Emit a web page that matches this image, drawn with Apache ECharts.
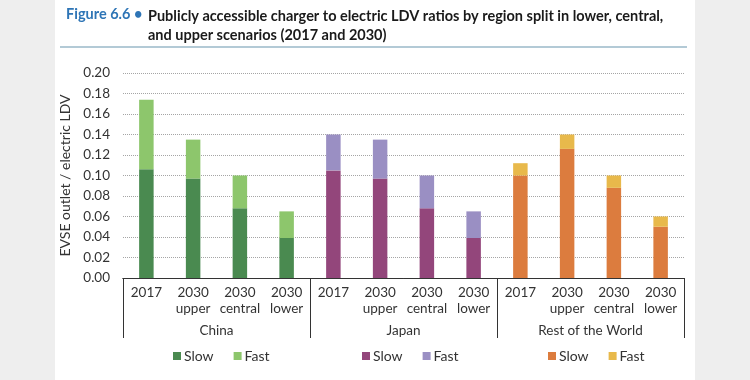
<!DOCTYPE html>
<html>
<head>
<meta charset="utf-8">
<script src="https://cdn.jsdelivr.net/npm/echarts@6/dist/echarts.min.js"></script>
<style>
html,body{margin:0;padding:0;}
#chart{width:750px;height:380px;background:linear-gradient(to right,#eeeeee 0,#eeeeee 55px,#ffffff 55px,#ffffff 695px,#eeeeee 695px,#eeeeee 750px);}
</style>
</head>
<body>
<div id="chart"></div>
<script>
// ---- data ----
const regions = ['China', 'Japan', 'Rest of the World'];
const subCategories = ['2017', '2030\nupper', '2030\ncentral', '2030\nlower'];
const chinaSlow = [0.106, 0.097, 0.068, 0.039];
const chinaFast = [0.068, 0.038, 0.032, 0.026];
const japanSlow = [0.105, 0.097, 0.068, 0.039];
const japanFast = [0.035, 0.038, 0.032, 0.026];
const rowSlow = [0.100, 0.126, 0.088, 0.050];
const rowFast = [0.012, 0.014, 0.012, 0.010];
const yTicks = [0, 0.02, 0.04, 0.06, 0.08, 0.10, 0.12, 0.14, 0.16, 0.18, 0.20];

const FONT = 'Lato, "Open Sans", sans-serif';
const categories = [];
regions.forEach(() => subCategories.forEach(c => categories.push(c)));

function place(values, groupIdx) {
  const out = new Array(categories.length).fill(null);
  values.forEach((v, i) => { out[groupIdx * subCategories.length + i] = v; });
  return out;
}

const seriesDefs = [
  { name: 'China Slow', vals: chinaSlow, g: 0, color: '#4a8a50' },
  { name: 'China Fast', vals: chinaFast, g: 0, color: '#8dc66c' },
  { name: 'Japan Slow', vals: japanSlow, g: 1, color: '#93467b' },
  { name: 'Japan Fast', vals: japanFast, g: 1, color: '#9a8fc3' },
  { name: 'Rest of the World Slow', vals: rowSlow, g: 2, color: '#dc7c3e' },
  { name: 'Rest of the World Fast', vals: rowFast, g: 2, color: '#e8b94b' }
];

const chart = echarts.init(document.getElementById('chart'), null, { renderer: 'canvas' });

const legendCommon = {
  top: 349, padding: 0, icon: 'rect', itemWidth: 8, itemHeight: 8, itemGap: 20, itemStyle: { borderWidth: 0 },
  textStyle: { fontFamily: FONT, fontSize: 14, color: '#333', padding: [0, 0, 0, -2] },
  formatter: n => n.split(' ').pop(),
  selectedMode: false
};

chart.setOption({
  animation: false,
  textStyle: { fontFamily: FONT },
  title: [
    { text: 'Figure 6.6 •', left: 61, top: 2,
      textStyle: { fontFamily: FONT, fontSize: 14.5, fontWeight: 'bold', color: '#2e75b6' } },
    { text: 'Publicly accessible charger to electric LDV ratios by region split in lower, central,\nand upper scenarios (2017 and 2030)',
      left: 143, top: 2,
      textStyle: { fontFamily: FONT, fontSize: 14.5, fontWeight: 'bold', color: '#1a1a1a', lineHeight: 19 } }
  ],
  graphic: [
    { type: 'line', shape: { x1: 60, y1: 47, x2: 687, y2: 47 }, style: { stroke: '#b3cad6', lineWidth: 2 } }
  ],
  grid: { left: 123, right: 66, top: 73, bottom: 102 },
  legend: [
    Object.assign({ left: 173, data: ['China Slow', 'China Fast'] }, legendCommon),
    Object.assign({ left: 362, data: ['Japan Slow', 'Japan Fast'] }, legendCommon),
    Object.assign({ left: 548, data: ['Rest of the World Slow', 'Rest of the World Fast'] }, legendCommon)
  ],
  xAxis: [
    {
      type: 'category', data: categories, position: 'bottom',
      axisLine: { show: true, lineStyle: { color: '#333', width: 1 } },
      axisTick: { show: false },
      axisLabel: { interval: 0, margin: 7, fontFamily: FONT, fontSize: 13.5, color: '#333', lineHeight: 16 },
      splitLine: { show: false }
    },
    {
      type: 'category', data: regions, position: 'bottom',
      axisLine: { show: true, lineStyle: { color: '#333', width: 1 } },
      axisTick: { show: true, length: 60, interval: 0, lineStyle: { color: '#333' } },
      axisLabel: { interval: 0, margin: 46, fontFamily: FONT, fontSize: 13.5, color: '#333' },
      splitLine: { show: false }
    }
  ],
  yAxis: {
    type: 'value', min: 0, max: 0.2, interval: 0.02,
    name: 'EVSE outlet / electric LDV', nameLocation: 'middle', nameGap: 46, nameRotate: 90,
    nameTextStyle: { fontFamily: FONT, fontSize: 14, color: '#333' },
    axisLine: { show: false }, axisTick: { show: false },
    axisLabel: { margin: 13, fontFamily: FONT, fontSize: 13.5, color: '#333',
      formatter: v => yTicks.includes(Math.round(v * 100) / 100) ? v.toFixed(2) : '' },
    splitLine: { lineStyle: { type: 'dotted', color: '#a5a5a5', width: 1 } }
  },
  series: seriesDefs.map(s => ({
    name: s.name, type: 'bar', stack: 'total', xAxisIndex: 0,
    barWidth: '31%',
    data: place(s.vals, s.g),
    itemStyle: { color: s.color }
  }))
});
</script>
</body>
</html>
